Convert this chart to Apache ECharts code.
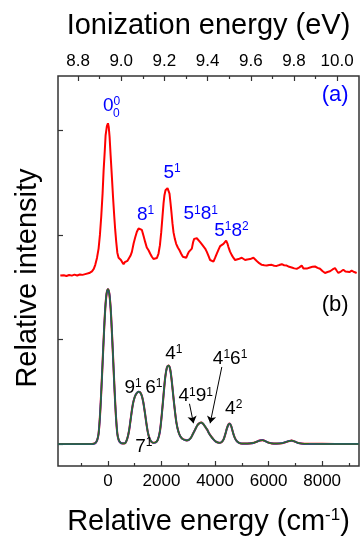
<!DOCTYPE html>
<html>
<head>
<meta charset="utf-8">
<script src="https://cdn.jsdelivr.net/npm/echarts@6/dist/echarts.min.js"></script>
<style>
  html, body { margin: 0; padding: 0; background: #fff; }
  #chart { width: 361px; height: 541px; }
</style>
</head>
<body>
<div id="chart"></div>
<script>
// panel (a): measured spectrum, shifted up on the shared intensity axis
const expA = [
  [-1780,1.611],[-1650,1.615],[-1550,1.607],[-1450,1.617],[-1350,1.611],[-1250,1.620],[-1150,1.612],
  [-1050,1.622],[-950,1.618],[-850,1.625],[-785,1.627],[-700,1.635],[-597,1.652],[-530,1.675],
  [-474,1.714],[-410,1.78],[-350,1.869],[-300,2.00],[-250,2.179],[-200,2.40],[-163,2.613],[-120,2.80],
  [-88,2.953],[-40,3.04],[0,3.068],[30,3.03],[61,2.938],[100,2.76],[148,2.550],[190,2.36],[235,2.179],
  [270,2.05],[310,1.931],[350,1.83],[397,1.782],[440,1.77],[484,1.760],[530,1.74],[583,1.720],
  [630,1.74],[683,1.745],[730,1.752],[782,1.760],[840,1.80],[894,1.838],[960,1.92],[1019,1.977],
  [1080,2.03],[1143,2.061],[1200,2.065],[1267,2.048],[1330,1.99],[1392,1.931],[1450,1.88],[1516,1.853],
  [1580,1.82],[1640,1.791],[1700,1.77],[1765,1.760],[1830,1.78],[1889,1.822],[1940,1.90],[1989,2.024],
  [2035,2.17],[2076,2.302],[2110,2.38],[2150,2.427],[2190,2.445],[2225,2.448],[2260,2.43],[2299,2.395],
  [2335,2.31],[2374,2.210],[2410,2.11],[2449,2.024],[2500,1.96],[2548,1.915],[2610,1.88],[2672,1.853],
  [2735,1.82],[2797,1.791],[2860,1.785],[2921,1.782],[2970,1.81],[3021,1.838],[3080,1.85],[3133,1.869],
  [3180,1.93],[3220,1.962],[3270,1.975],[3319,1.968],[3380,1.95],[3444,1.931],[3510,1.91],[3568,1.900],
  [3630,1.87],[3693,1.838],[3755,1.80],[3817,1.760],[3880,1.75],[3941,1.745],[4000,1.78],[4066,1.822],
  [4130,1.86],[4190,1.893],[4250,1.905],[4314,1.915],[4370,1.93],[4414,1.946],[4460,1.92],[4501,1.884],
  [4560,1.84],[4625,1.807],[4690,1.78],[4750,1.760],[4810,1.765],[4874,1.769],[4940,1.775],[4998,1.782],
  [5060,1.77],[5123,1.760],[5200,1.765],[5309,1.769],[5370,1.775],[5434,1.782],[5500,1.765],[5558,1.751],
  [5650,1.73],[5745,1.714],[5840,1.71],[5931,1.707],[6020,1.712],[6118,1.714],[6210,1.705],[6304,1.704],
  [6400,1.712],[6491,1.720],[6580,1.71],[6677,1.707],[6770,1.695],[6864,1.689],[6960,1.68],[7050,1.676],
  [7150,1.69],[7237,1.707],[7300,1.68],[7361,1.667],[7450,1.68],[7548,1.689],[7640,1.695],[7735,1.698],
  [7830,1.685],[7921,1.676],[8010,1.655],[8108,1.636],[8200,1.645],[8295,1.652],[8390,1.67],[8481,1.683],
  [8540,1.66],[8606,1.636],[8700,1.65],[8792,1.667],[8870,1.65],[8941,1.636],[9020,1.645],[9102,1.658],
  [9200,1.645],[9289,1.636]
];

// panel (b): simulated spectrum (three nearly identical traces)
const simB = [
  [-1866,0],[-600,0],[-540,0.002],[-460,0.012],[-400,0.04],[-350,0.10],[-300,0.26],[-250,0.50],
  [-200,0.78],[-150,1.06],[-100,1.30],[-50,1.44],[0,1.48],[50,1.44],[100,1.30],[150,1.06],[200,0.78],
  [250,0.50],[300,0.26],[350,0.10],[400,0.04],[460,0.015],[540,0.006],[600,0.006],
  [650,0.01],[720,0.05],[790,0.13],[860,0.26],[930,0.38],[1000,0.45],[1070,0.485],[1140,0.50],
  [1200,0.495],[1260,0.465],[1320,0.40],[1380,0.30],[1440,0.19],[1500,0.10],[1560,0.05],[1630,0.02],
  [1700,0.012],[1780,0.015],[1860,0.04],[1940,0.12],[2010,0.28],[2080,0.48],[2140,0.64],[2200,0.73],
  [2260,0.75],[2320,0.72],[2380,0.61],[2440,0.46],[2500,0.32],[2560,0.20],[2630,0.12],[2700,0.075],
  [2780,0.05],[2860,0.04],[2940,0.035],[3020,0.04],[3100,0.06],[3180,0.10],[3260,0.14],[3340,0.18],
  [3420,0.20],[3480,0.205],[3550,0.195],[3620,0.17],[3700,0.14],[3780,0.10],[3860,0.07],[3940,0.045],
  [4020,0.025],[4100,0.015],[4180,0.012],[4250,0.02],[4320,0.045],[4390,0.10],[4450,0.155],[4510,0.19],
  [4550,0.195],[4600,0.175],[4660,0.12],[4720,0.07],[4790,0.035],[4870,0.015],[4960,0.006],[5100,0.004],
  [5300,0.006],[5450,0.012],[5580,0.025],[5700,0.035],[5780,0.037],[5860,0.03],[5980,0.015],[6120,0.006],
  [6300,0.004],[6500,0.008],[6650,0.02],[6780,0.03],[6860,0.033],[6950,0.027],[7080,0.012],[7250,0.004],
  [7500,0.002],[8500,0.001],[9377,0.001]
];

const cmMajor = [0, 2000, 4000, 6000, 8000];
const cmMinor = [-1000, 1000, 3000, 5000, 7000, 9000];
const evMajor = [8.8, 9.0, 9.2, 9.4, 9.6, 9.8, 10.0];
const evMinor = [8.9, 9.1, 9.3, 9.5, 9.7, 9.9];
const yTicks = [0, 1, 2, 3];

// band labels: text, left edge (cm-1), vertical centre (intensity)
const labelsA = [
  ['{m|0}{s|0}', -187, 3.235],
  ['{b|0}', 187, 3.162],
  ['{m|8}{s|1}', 1082, 2.196],
  ['{m|5}{s|1}', 2074, 2.594],
  ['{m|5}{s|1}{m|8}{s|1}', 2821, 2.198],
  ['{m|5}{s|1}{m|8}{s|2}', 3966, 2.04],
  ['{p|(a)}', 7987, 3.339]
];
const labelsB = [
  ['{m|9}{s|1}', 619, 0.543],
  ['{m|6}{s|1}', 1392, 0.543],
  ['{m|7}{s|1}', 1019, -0.03],
  ['{m|4}{s|1}', 2138, 0.862],
  ['{m|4}{s|1}{m|9}{s|1}', 2634, 0.457],
  ['{m|4}{s|1}{m|6}{s|1}', 3918, 0.814],
  ['{m|4}{s|2}', 4376, 0.336],
  ['{p|(b)}', 7987, 1.326]
];
const arrowsB = [
  [[3045, 0.385], [3194, 0.199]],
  [[4253, 0.737], [3817, 0.199]]
];

const X_MIN = -1866, X_MAX = 9377;
const ORIGIN_EV = 8.9386, CM_PER_EV = 8065.54;
const FONT = "'Liberation Sans', Arial, sans-serif";
const FRAME = '#333';

const rich = {
  m: { fontSize: 19, lineHeight: 20, fontFamily: FONT, verticalAlign: 'middle' },
  s: { fontSize: 12, lineHeight: 12, fontFamily: FONT, verticalAlign: 'top' },
  b: { fontSize: 12, lineHeight: 12, fontFamily: FONT },
  p: { fontSize: 22, lineHeight: 24, fontFamily: FONT }
};

function labelSeries(list, color) {
  return {
    type: 'scatter',
    silent: true,
    symbolSize: 1,
    itemStyle: { color: 'rgba(0,0,0,0)', opacity: 1 },
    data: list.map(d => ({ value: [d[1], d[2]], label: { formatter: d[0] } })),
    label: {
      show: true, position: 'inside', align: 'left', verticalAlign: 'middle',
      color: color, fontFamily: FONT, rich: rich
    },
    z: 5
  };
}

const tickStyle = { color: FRAME, width: 1.2 };
const noLine = { show: false, onZero: false };

const chart = echarts.init(document.getElementById('chart'));
chart.setOption({
  animation: false,
  grid: {
    left: 58, right: 2, top: 76, bottom: 64,
    show: true, borderColor: FRAME, borderWidth: 1.5, backgroundColor: 'transparent'
  },
  xAxis: [
    {
      type: 'value', position: 'bottom', min: X_MIN, max: X_MAX,
      axisLine: noLine, splitLine: { show: false },
      axisTick: { inside: true, length: 5, customValues: cmMajor, lineStyle: tickStyle },
      axisLabel: {
        customValues: cmMajor, fontSize: 17, color: '#000', fontFamily: FONT, margin: 7,
        formatter: v => String(v)
      },
      name: 'Relative energy (cm{s|-1})', nameLocation: 'middle', nameGap: 41,
      nameTextStyle: {
        fontSize: 29, color: '#000', fontFamily: FONT,
        rich: { s: { fontSize: 17, lineHeight: 18, verticalAlign: 'top', color: '#000', fontFamily: FONT } }
      }
    },
    {
      type: 'value', position: 'bottom', min: X_MIN, max: X_MAX,
      axisLine: noLine, splitLine: { show: false },
      axisTick: { inside: true, length: 3, customValues: cmMinor, lineStyle: tickStyle },
      axisLabel: { show: false }
    },
    {
      type: 'value', position: 'top',
      min: ORIGIN_EV + X_MIN / CM_PER_EV, max: ORIGIN_EV + X_MAX / CM_PER_EV,
      axisLine: noLine, splitLine: { show: false },
      axisTick: { inside: true, length: 5, customValues: evMajor, lineStyle: tickStyle },
      axisLabel: {
        customValues: evMajor, fontSize: 17, color: '#000', fontFamily: FONT, margin: 6,
        formatter: v => v.toFixed(1)
      },
      name: 'Ionization energy (eV)', nameLocation: 'middle', nameGap: 36,
      nameTextStyle: { fontSize: 29, color: '#000', fontFamily: FONT }
    },
    {
      type: 'value', position: 'top',
      min: ORIGIN_EV + X_MIN / CM_PER_EV, max: ORIGIN_EV + X_MAX / CM_PER_EV,
      axisLine: noLine, splitLine: { show: false },
      axisTick: { inside: true, length: 3, customValues: evMinor, lineStyle: tickStyle },
      axisLabel: { show: false }
    }
  ],
  yAxis: {
    type: 'value', min: -0.21, max: 3.52,
    axisLine: noLine, splitLine: { show: false },
    axisTick: { inside: true, length: 5, customValues: yTicks, lineStyle: tickStyle },
    axisLabel: { show: false },
    name: 'Relative intensity', nameLocation: 'middle', nameGap: 16,
    nameTextStyle: { fontSize: 29, color: '#000', fontFamily: FONT, padding: [0, 14, 0, 0] }
  },
  series: [
    {
      type: 'line', data: expA, showSymbol: false, silent: true,
      lineStyle: { color: '#ff0000', width: 2 }
    },
    {
      type: 'line', data: simB, showSymbol: false, silent: true, smooth: 0.3,
      lineStyle: { color: '#ff0000', width: 2.1 }
    },
    {
      type: 'line', data: simB, showSymbol: false, silent: true, smooth: 0.3,
      lineStyle: { color: '#1a3cff', width: 1.8 }
    },
    {
      type: 'line', data: simB, showSymbol: false, silent: true, smooth: 0.3,
      lineStyle: { color: '#2f6b22', width: 1.5 }
    },
    {
      type: 'lines', coordinateSystem: 'cartesian2d', silent: true,
      symbol: ['none', 'arrow'], symbolSize: 7,
      lineStyle: { color: '#000', width: 1, opacity: 1 },
      data: arrowsB.map(a => ({ coords: a }))
    },
    labelSeries(labelsA, '#0000ff'),
    labelSeries(labelsB, '#000')
  ]
});
</script>
</body>
</html>
